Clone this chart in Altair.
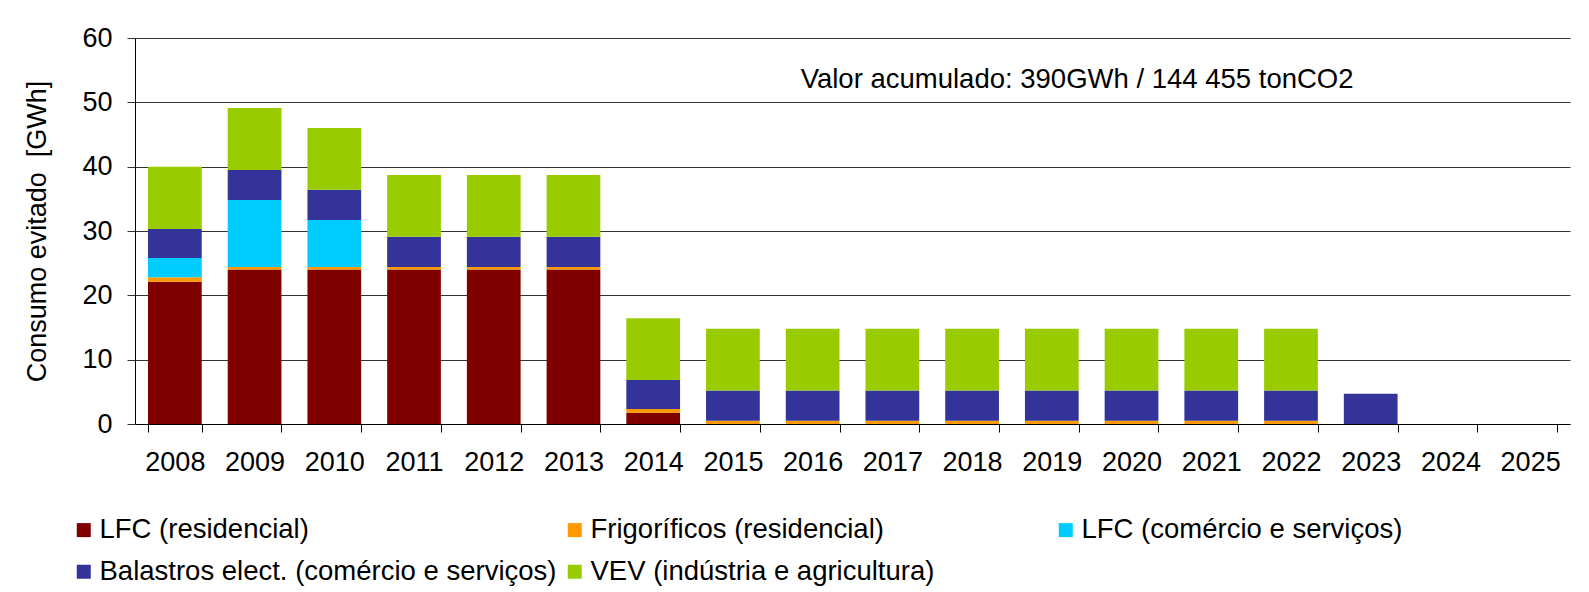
import altair as alt
import pandas as pd

years = [str(y) for y in range(2008, 2026)]
series = [
    "LFC (residencial)",
    "Frigoríficos (residencial)",
    "LFC (comércio e serviços)",
    "Balastros elect. (comércio e serviços)",
    "VEV (indústria e agricultura)",
]
colors = ["#800000", "#FF9900", "#00CCFF", "#333399", "#99CC00"]

lfc_res = [22.1, 24.0, 24.0, 24.0, 24.0, 24.0, 1.75, 0, 0, 0, 0, 0, 0, 0, 0, 0, 0, 0]
frig = [0.7, 0.4, 0.4, 0.4, 0.4, 0.4, 0.6, 0.5, 0.5, 0.5, 0.5, 0.5, 0.5, 0.5, 0.5, 0, 0, 0]
lfc_com = [3.0, 10.4, 7.3, 0, 0, 0, 0, 0, 0, 0, 0, 0, 0, 0, 0, 0, 0, 0]
balastros = [4.5, 4.7, 4.7, 4.7, 4.7, 4.7, 4.5, 4.7, 4.7, 4.7, 4.7, 4.7, 4.7, 4.7, 4.7, 4.7, 0, 0]
vev = [9.7, 9.6, 9.6, 9.6, 9.6, 9.6, 9.6, 9.6, 9.6, 9.6, 9.6, 9.6, 9.6, 9.6, 9.6, 0, 0, 0]

annotation = "Valor acumulado: 390GWh / 144 455 tonCO2"
y_title = "Consumo evitado\u00a0 [GWh]"

rows = []
for si, (name, vals) in enumerate(zip(series, [lfc_res, frig, lfc_com, balastros, vev])):
    for y, v in zip(years, vals):
        rows.append({"Ano": y, "Série": name, "Valor": v, "ordem": si})
df = pd.DataFrame(rows)

FONT = "Liberation Sans"

bars = alt.Chart(df).mark_bar().encode(
    x=alt.X("Ano:N", sort=years, scale=alt.Scale(domain=years, paddingInner=0.326, paddingOuter=0.163),
            axis=alt.Axis(title=None, labelAngle=0, labelFontSize=27, labelFont=FONT, labelColor="black",
                          tickBand="extent", tickSize=8, tickColor="black", domainColor="black",
                          labelPadding=17, grid=False)),
    y=alt.Y("Valor:Q", stack="zero", scale=alt.Scale(domain=[0, 60], nice=False),
            axis=alt.Axis(title=y_title, values=[0, 10, 20, 30, 40, 50, 60],
                          labelFontSize=27, labelFont=FONT, labelColor="black",
                          titleFontSize=27, titleFont=FONT, titleFontWeight="normal", titleColor="black",
                          titlePadding=30, tickSize=8, tickColor="#333", domainColor="black",
                          labelPadding=15, grid=True, gridColor="#333", gridWidth=1)),
    color=alt.Color("Série:N", sort=series, scale=alt.Scale(domain=series, range=colors),
                    legend=alt.Legend(title=None, orient="none", legendX=-65, legendY=478,
                                      direction="horizontal",
                                      columns=3, gridAlign="all", columnPadding=4, rowPadding=13,
                                      symbolType="square", symbolSize=196, symbolStrokeWidth=0,
                                      labelFontSize=27.5, labelFont=FONT, labelColor="black",
                                      labelOffset=2, padding=0, labelLimit=800)),
    order=alt.Order("ordem:Q", sort="ascending"),
)

text = alt.Chart(pd.DataFrame({"Ano": ["2016"], "y": [53.4], "t": [annotation]})).mark_text(
    align="left", baseline="middle", fontSize=27.5, font=FONT, color="black", dx=-12
).encode(x=alt.X("Ano:N", sort=years), y="y:Q", text="t:N")

chart = alt.layer(bars, text).properties(
    width=1435, height=386,
    padding={"left": 15, "top": 16, "right": 5, "bottom": 5},
    background="white",
).configure_view(stroke=None).configure_axis(domainWidth=1, tickWidth=1)

chart.save("out.html", embed_options={"renderer": "svg", "actions": False})
